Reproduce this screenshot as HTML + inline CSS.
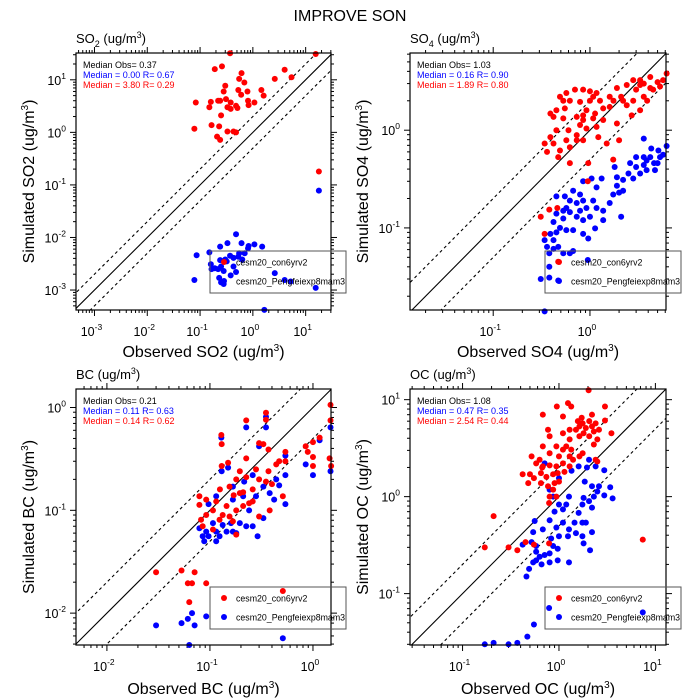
<!DOCTYPE html>
<html><head><meta charset="utf-8"><style>
html,body{margin:0;padding:0;background:#fff;overflow:hidden;}
svg{display:block;font-family:"Liberation Sans",Arial,sans-serif;}
</style></head><body>
<svg id="chart" width="700" height="700" viewBox="0 0 700 700" xmlns="http://www.w3.org/2000/svg">
<text x="350" y="21" font-size="16" text-anchor="middle">IMPROVE SON</text>
</svg>
<script>
const so2Red=[[0.37,32],[15.5,31],[0.19,16],[0.26,18],[4.0,15.5],[0.61,13.4],[0.55,10.4],[0.69,8.9],[2.6,10.4],[5.4,11.2],[0.30,7.7],[0.53,6.4],[0.79,6.0],[1.45,6.4],[0.28,6.0],[0.81,4.0],[0.60,5.2],[0.24,4.0],[0.31,4.3],[0.38,3.7],[0.083,3.7],[0.16,3.8],[0.22,4.0],[0.15,3.0],[0.33,3.0],[0.48,3.2],[0.51,2.9],[0.38,2.8],[0.83,3.3],[1.07,3.7],[1.6,5.0],[0.25,2.1],[0.165,1.37],[0.23,1.3],[0.078,1.17],[0.33,1.04],[0.43,1.04],[0.48,1.0],[0.21,0.83],[0.24,0.72],[17.8,0.18]];
const so2Blue=[[0.48,0.0115],[0.33,0.0078],[0.61,0.0078],[1.07,0.0074],[0.83,0.0069],[1.5,0.0067],[0.24,0.0067],[0.70,0.005],[0.55,0.005],[0.15,0.0052],[0.086,0.0046],[0.81,0.0062],[0.37,0.0045],[0.53,0.0043],[0.63,0.0038],[0.43,0.0041],[0.24,0.0037],[0.30,0.0038],[0.32,0.0035],[0.16,0.0031],[0.19,0.0026],[0.165,0.0025],[0.22,0.0025],[0.25,0.0028],[0.43,0.0028],[0.28,0.0023],[0.48,0.0022],[0.38,0.0019],[0.23,0.0017],[2.6,0.0021],[4.0,0.00155],[5.2,0.00145],[0.078,0.00155],[0.27,0.00145],[0.28,0.0013],[0.25,0.0014],[15.5,0.0011],[1.65,0.00042],[17.8,0.078]];
const so4Red=[[6.2,3.8],[4.2,3.5],[5.0,3.1],[3.6,3.0],[2.8,3.25],[2.4,2.9],[3.0,2.6],[3.6,2.2],[1.9,2.7],[2.1,2.2],[1.75,2.0],[2.4,1.8],[1.6,1.73],[1.37,1.67],[1.17,2.4],[1.0,2.5],[1.08,2.2],[0.85,2.6],[0.70,2.6],[0.57,2.4],[0.49,2.2],[0.62,2.0],[0.79,1.95],[0.55,1.67],[0.45,1.6],[0.42,1.37],[0.53,1.32],[0.85,1.42],[1.13,1.48],[1.37,1.27],[1.17,1.08],[1.22,0.85],[0.92,1.04],[0.85,0.79],[0.73,0.89],[0.62,0.67],[0.49,0.62],[0.39,0.85],[0.34,0.73],[0.42,0.73],[0.36,0.60],[0.47,0.53],[0.62,0.46],[0.96,0.46],[0.73,0.79],[0.60,1.0],[0.79,1.13],[1.49,0.73],[2.0,0.79],[1.9,1.17],[2.7,1.42],[3.3,1.6],[4.2,2.7],[5.3,2.8],[3.3,2.9],[1.6,2.2],[0.31,0.13],[0.34,0.087],[0.38,0.154],[0.46,0.16],[0.47,0.045],[0.95,0.30],[1.74,0.50],[0.53,2.0],[0.39,1.48],[1.0,2.0],[1.27,2.0],[0.92,1.6],[1.08,1.32],[0.73,1.37],[0.45,1.0],[0.57,0.79],[0.85,1.27],[2.8,2.0],[3.9,2.0],[4.5,2.6],[5.7,3.25],[3.3,3.25],[2.2,2.0]];
const so4Blue=[[6.2,0.69],[3.6,0.82],[4.3,0.65],[5.1,0.62],[5.3,0.53],[4.2,0.53],[4.6,0.46],[3.6,0.44],[3.6,0.53],[3.0,0.53],[3.85,0.39],[4.7,0.39],[3.3,0.36],[2.6,0.46],[2.5,0.36],[2.2,0.31],[2.8,0.32],[1.9,0.27],[1.8,0.42],[2.0,0.23],[1.74,0.22],[2.2,0.24],[1.6,0.18],[2.1,0.13],[1.32,0.32],[1.04,0.32],[0.85,0.30],[0.67,0.24],[0.55,0.21],[0.45,0.21],[0.62,0.19],[0.85,0.19],[1.08,0.19],[0.92,0.16],[1.17,0.16],[1.37,0.15],[0.79,0.15],[0.62,0.145],[0.53,0.15],[0.45,0.14],[1.37,0.12],[1.0,0.13],[0.85,0.12],[0.73,0.13],[0.53,0.125],[0.42,0.115],[0.67,0.095],[0.57,0.095],[0.85,0.087],[0.96,0.078],[1.13,0.099],[0.45,0.09],[0.39,0.087],[0.34,0.075],[0.42,0.075],[0.36,0.064],[0.42,0.061],[0.47,0.064],[0.53,0.055],[0.38,0.055],[0.62,0.055],[0.67,0.058],[0.38,0.04],[0.31,0.03],[0.38,0.031],[0.34,0.014],[0.95,0.047],[0.47,0.029],[0.73,0.18],[1.17,0.26],[1.9,0.33],[3.0,0.42],[3.85,0.49],[5.7,0.56],[5.0,0.46],[0.57,0.16],[0.79,0.22],[0.49,0.10]];
const bcRed=[[1.48,1.06],[1.48,0.75],[1.45,0.32],[1.5,0.27],[1.16,0.51],[1.0,0.46],[0.85,0.42],[1.0,0.33],[0.89,0.37],[1.0,0.27],[0.225,0.75],[0.35,0.89],[0.35,0.76],[0.129,0.54],[0.13,0.44],[0.30,0.45],[0.33,0.44],[0.13,0.27],[0.15,0.29],[0.225,0.32],[0.54,0.37],[0.47,0.30],[0.54,0.30],[0.37,0.24],[0.28,0.25],[0.195,0.24],[0.225,0.21],[0.30,0.20],[0.35,0.19],[0.40,0.18],[0.155,0.17],[0.18,0.2],[0.26,0.16],[0.21,0.15],[0.17,0.14],[0.125,0.16],[0.145,0.11],[0.092,0.127],[0.079,0.137],[0.107,0.10],[0.092,0.09],[0.082,0.081],[0.085,0.07],[0.107,0.065],[0.124,0.081],[0.155,0.087],[0.18,0.10],[0.21,0.11],[0.24,0.117],[0.167,0.078],[0.133,0.09],[0.079,0.113],[0.115,0.122],[0.18,0.058],[0.30,0.087],[0.38,0.10],[0.51,0.137],[0.26,0.122],[0.195,0.147],[0.37,0.39],[0.44,0.28],[0.030,0.025],[0.053,0.026],[0.071,0.025],[0.061,0.0195],[0.067,0.0195],[0.092,0.0195],[0.063,0.0128],[0.51,0.0164]];
const bcBlue=[[1.48,0.64],[1.48,0.24],[1.16,0.48],[1.0,0.22],[0.85,0.28],[0.35,0.81],[0.35,0.64],[0.225,0.64],[0.129,0.51],[0.13,0.24],[0.15,0.26],[0.30,0.42],[0.54,0.34],[0.54,0.22],[0.54,0.115],[0.42,0.127],[0.47,0.175],[0.33,0.17],[0.28,0.137],[0.21,0.137],[0.167,0.127],[0.24,0.10],[0.33,0.084],[0.26,0.07],[0.225,0.07],[0.167,0.062],[0.145,0.062],[0.115,0.062],[0.092,0.062],[0.085,0.056],[0.097,0.056],[0.088,0.05],[0.115,0.05],[0.124,0.056],[0.18,0.06],[0.195,0.075],[0.16,0.075],[0.133,0.072],[0.107,0.075],[0.097,0.115],[0.115,0.137],[0.167,0.17],[0.215,0.19],[0.26,0.22],[0.38,0.147],[0.44,0.2],[0.079,0.067],[0.29,0.056],[0.030,0.0076],[0.053,0.008],[0.061,0.0088],[0.067,0.01],[0.071,0.0076],[0.092,0.0093],[0.063,0.0049],[0.51,0.0057]];
const ocRed=[[2.03,12.5],[1.24,9.2],[0.95,8.5],[1.34,8.5],[3.0,8.5],[0.68,7.0],[1.72,6.5],[3.0,6.1],[3.5,4.5],[1.63,5.3],[1.76,5.7],[1.9,5.1],[2.06,6.0],[2.2,5.3],[2.4,5.7],[2.6,4.9],[2.3,4.7],[1.8,4.5],[1.5,4.9],[1.63,4.2],[2.06,4.2],[2.5,3.9],[2.3,3.45],[1.29,3.9],[1.19,3.3],[1.34,3.05],[1.1,3.05],[0.94,3.3],[0.8,4.2],[0.77,4.9],[0.68,3.3],[0.8,2.8],[1.0,2.6],[1.29,2.6],[1.63,2.6],[1.76,2.8],[0.52,2.6],[0.58,2.2],[0.68,2.05],[0.8,2.1],[0.94,2.05],[1.1,2.2],[1.29,2.05],[1.4,2.4],[0.50,1.7],[0.55,1.55],[0.65,1.75],[0.74,1.6],[0.87,1.7],[0.97,1.75],[1.14,1.8],[0.65,1.38],[0.77,1.28],[0.9,1.38],[1.0,1.43],[0.87,1.18],[0.8,1.0],[0.94,1.0],[0.79,0.86],[2.4,2.4],[2.5,2.3],[0.48,1.38],[0.42,1.7],[0.67,2.0],[0.63,2.4],[1.29,4.9],[1.1,4.5],[1.1,6.7],[1.57,6.0],[2.2,7.0],[0.21,0.63],[0.17,0.30],[0.30,0.30],[0.37,0.28],[0.45,0.34],[0.55,0.32],[0.79,0.33],[7.4,0.36]];
const ocBlue=[[2.05,2.4],[1.6,2.05],[1.95,2.0],[2.95,1.87],[1.35,1.85],[0.71,2.2],[1.0,1.55],[1.85,1.43],[2.2,1.28],[2.6,1.28],[3.4,1.25],[2.95,1.03],[3.6,0.96],[2.5,1.13],[2.3,1.0],[2.05,0.9],[1.75,0.83],[2.2,0.77],[1.6,0.68],[1.45,0.54],[1.75,0.54],[1.27,1.0],[1.19,0.83],[1.1,0.74],[1.0,0.83],[0.9,0.7],[0.8,0.57],[1.1,0.54],[0.94,0.48],[1.27,0.46],[1.5,0.42],[1.75,0.39],[1.24,0.39],[1.0,0.39],[0.83,0.37],[0.68,0.46],[0.56,0.56],[0.54,0.43],[0.87,0.31],[0.97,0.29],[0.8,0.26],[0.71,0.25],[0.63,0.24],[0.58,0.22],[0.54,0.21],[0.66,0.20],[0.8,0.21],[0.97,0.22],[1.27,0.21],[0.49,0.18],[0.46,0.15],[0.58,0.27],[0.52,0.34],[0.42,0.32],[2.1,0.28],[1.8,0.33],[2.2,0.43],[1.9,0.54],[1.8,0.97],[0.8,1.18],[0.87,1.0],[2.4,2.05],[0.58,0.31],[7.4,0.064],[0.79,0.071],[0.55,0.048],[0.47,0.036],[0.37,0.031],[0.30,0.03],[0.21,0.031],[0.17,0.03]];
const xExponents1=[-3,-2,-1,0,1], yExponents1=[-3,-2,-1,0,1];
const xExponents2=[-1,0], yExponents2=[-1,0];
const xExponents3=[-2,-1,0], yExponents3=[-2,-1,0];
const xExponents4=[-1,0,1], yExponents4=[-1,0,1];
const stats1=["Median Obs= 0.37","Median = 0.00 R= 0.67","Median = 3.80 R= 0.29"];
const stats2=["Median Obs= 1.03","Median = 0.16 R= 0.90","Median = 1.89 R= 0.80"];
const stats3=["Median Obs= 0.21","Median = 0.11 R= 0.63","Median = 0.14 R= 0.62"];
const stats4=["Median Obs= 1.08","Median = 0.47 R= 0.35","Median = 2.54 R= 0.44"];
const legendNames=["cesm20_con6yrv2","cesm20_Pengfeiexp8mam3"];

const NS="http://www.w3.org/2000/svg";
const svg=document.getElementById('chart');
function mk(tag,attrs,parent){const e=document.createElementNS(NS,tag);for(const k in attrs)e.setAttribute(k,attrs[k]);(parent||svg).appendChild(e);return e;}

function panel(p){
  const g=mk('g',{});
  
  
  const L=p.box[0],T=p.box[1],R=p.box[2],B=p.box[3];
  const sx=v=>L+(Math.log10(v)-p.xr[0])/(p.xr[1]-p.xr[0])*(R-L);
  const sy=v=>B-(Math.log10(v)-p.yr[0])/(p.yr[1]-p.yr[0])*(B-T);
  const clipId='clip-'+p.id;
  const cp=mk('clipPath',{id:clipId},g);mk('rect',{x:L,y:T,width:R-L,height:B-T},cp);
  const lo=Math.pow(10,Math.min(p.xr[0],p.yr[0])-1), hi=Math.pow(10,Math.max(p.xr[1],p.yr[1])+1);
  [[1,'none','one-to-one-line'],[2,'3,3','two-to-one-line'],[0.5,'3,3','one-to-two-line']].forEach(d=>{
    const ln=mk('line',{x1:sx(lo),y1:sy(lo*d[0]),x2:sx(hi),y2:sy(hi*d[0]),stroke:'#000','stroke-width':1.1,'stroke-dasharray':d[1],'clip-path':'url(#'+clipId+')'},g);
    
    
  });
  const tg=mk('g',{stroke:'#000','stroke-width':1},g);
  for(let e=Math.floor(p.xr[0]);e<=Math.ceil(p.xr[1]);e++){for(let m=1;m<10;m++){const lv=e+Math.log10(m);if(lv<p.xr[0]||lv>p.xr[1])continue;const x=sx(Math.pow(10,lv));const len=m===1?6:3;mk('line',{x1:x,y1:B,x2:x,y2:B+len},tg);mk('line',{x1:x,y1:T,x2:x,y2:T-len},tg);}}
  for(let e=Math.floor(p.yr[0]);e<=Math.ceil(p.yr[1]);e++){for(let m=1;m<10;m++){const lv=e+Math.log10(m);if(lv<p.yr[0]||lv>p.yr[1])continue;const y=sy(Math.pow(10,lv));const len=m===1?6:3;mk('line',{x1:L,y1:y,x2:L-len,y2:y},tg);mk('line',{x1:R,y1:y,x2:R+len,y2:y},tg);}}
  p.xe.forEach(e=>{const t=mk('text',{x:sx(Math.pow(10,e))-3,y:B+26,'font-size':12.5,'text-anchor':'middle'},g);t.innerHTML='10<tspan dy="-6" font-size="8.5">'+e+'</tspan>';});
  p.ye.forEach(e=>{const t=mk('text',{x:L-10,y:sy(Math.pow(10,e))+5,'font-size':12.5,'text-anchor':'end'},g);t.innerHTML='10<tspan dy="-6" font-size="8.5">'+e+'</tspan>';});
  const pts=[[p.blue,'#0000ff','blue-point'],[p.red,'#ff0000','red-point']];
  pts.forEach(s=>{s[0].forEach(d=>{const c=mk('circle',{cx:sx(d[0]),cy:sy(d[1]),r:3,fill:s[1]},g);});});
  const fr=mk('rect',{x:L,y:T,width:R-L,height:B-T,fill:'none',stroke:'#000','stroke-width':1.2},g);
  
  const cols=['#000','#0000ff','#ff0000'];
  p.stats.forEach((s,i)=>{const t=mk('text',{x:L+7,y:T+15+i*10,'font-size':9,fill:cols[i]},g);t.textContent=s;});
  const lg=mk('g',{},g);
  mk('rect',{x:p.leg[0],y:p.leg[1],width:136,height:42,fill:'none',stroke:'#555','stroke-width':1},lg);
  legendNames.forEach((n,i)=>{const y=p.leg[1]+11+i*19;mk('circle',{cx:p.leg[0]+14,cy:y,r:3,fill:i?'#0000ff':'#ff0000'},lg);const t=mk('text',{x:p.leg[0]+26,y:y+3.5,'font-size':8.8},lg);t.textContent=n;});
  const tt=mk('text',{x:L,y:T-10,'font-size':13},g);tt.innerHTML=p.title;
  const xt=mk('text',{x:(L+R)/2,y:B+p.xlOff,'font-size':16,'text-anchor':'middle'},g);xt.innerHTML=p.xlab;
  const cy=(T+B)/2;const yt=mk('text',{x:L-42,y:cy,'font-size':16,'text-anchor':'middle',transform:'rotate(-90 '+(L-42)+' '+cy+')'},g);yt.innerHTML=p.ylab;
}
const sup3='<tspan dy="-6" font-size="10">3</tspan><tspan dy="6">)</tspan>';
panel({id:'so2',box:[76,53,331,310],xr:[-3.35,1.48],yr:[-3.38,1.51],xe:xExponents1,ye:yExponents1,red:so2Red,blue:so2Blue,stats:stats1,leg:[210,251],xlOff:47,
  title:'SO<tspan dy="4" font-size="9">2</tspan><tspan dy="-4"> (ug/m</tspan><tspan dy="-5" font-size="9">3</tspan><tspan dy="5">)</tspan>',
  xlab:'Observed SO2 (ug/m'+sup3,ylab:'Simulated SO2 (ug/m'+sup3});
panel({id:'so4',box:[410,53,666,310],xr:[-1.86,0.786],yr:[-1.84,0.79],xe:xExponents2,ye:yExponents2,red:so4Red,blue:so4Blue,stats:stats2,leg:[545,251],xlOff:47,
  title:'SO<tspan dy="4" font-size="9">4</tspan><tspan dy="-4"> (ug/m</tspan><tspan dy="-5" font-size="9">3</tspan><tspan dy="5">)</tspan>',
  xlab:'Observed SO4 (ug/m'+sup3,ylab:'Simulated SO4 (ug/m'+sup3});
panel({id:'bc',box:[76,389,331,645],xr:[-2.30,0.175],yr:[-2.31,0.18],xe:xExponents3,ye:yExponents3,red:bcRed,blue:bcBlue,stats:stats3,leg:[210,587],xlOff:49,
  title:'BC (ug/m<tspan dy="-5" font-size="9">3</tspan><tspan dy="5">)</tspan>',
  xlab:'Observed BC (ug/m'+sup3,ylab:'Simulated BC (ug/m'+sup3});
panel({id:'oc',box:[410,389,666,645],xr:[-1.545,1.11],yr:[-1.53,1.11],xe:xExponents4,ye:yExponents4,red:ocRed,blue:ocBlue,stats:stats4,leg:[545,587],xlOff:49,
  title:'OC (ug/m<tspan dy="-5" font-size="9">3</tspan><tspan dy="5">)</tspan>',
  xlab:'Observed OC (ug/m'+sup3,ylab:'Simulated OC (ug/m'+sup3});
</script>
</body></html>
